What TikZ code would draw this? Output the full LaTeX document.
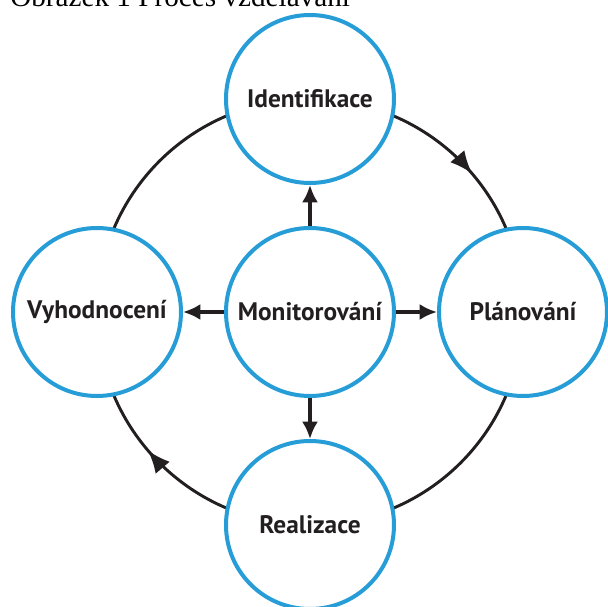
\documentclass[tikz,border=0pt]{standalone}
\usepackage{fontspec}
\setmainfont{Liberation Serif}
\newfontfamily\stagefont{PT Sans}
\usetikzlibrary{arrows.meta,positioning,backgrounds,decorations.markings}
\definecolor{RingBlue}{RGB}{38,157,214}
\definecolor{InkBlack}{RGB}{35,31,32}

\begin{document}
\begin{tikzpicture}[x=0.75pt, y=0.75pt, node distance=159.75pt, on grid,
  stage/.style={circle, draw=RingBlue, line width=3pt, fill=white, minimum size=126pt, inner sep=0pt, text=InkBlack, font=\stagefont\bfseries\fontsize{19pt}{22pt}\selectfont},
  spoke/.style={-{Latex[length=13pt,width=12pt]}, line width=2.3pt, draw=InkBlack},
  loopline/.style={line width=2.2pt, draw=InkBlack},
  tipped/.style={loopline, postaction={decorate}, decoration={markings, mark=at position 0.55 with {\arrow{Latex[length=17pt,width=14pt]}}}}]
\useasboundingbox (-310,-295) rectangle (298,312);

\node[anchor=base west, inner sep=0pt, font=\fontsize{21.9pt}{26pt}\selectfont] (title) at (-300,305) {Obrázek 1 Proces vzdělávání};

\node[stage] (mon) at (0,0) {Monitorování};
\node[stage, above=of mon] (idf) {Identifikace};
\node[stage, right=of mon] (pla) {Plánování};
\node[stage, below=of mon] (rea) {Realizace};
\node[stage, left=of mon] (vyh) {Vyhodnocení};

\draw[spoke] (mon) -- (idf);
\draw[spoke] (mon) -- (pla);
\draw[spoke] (mon) -- (rea);
\draw[spoke] (mon) -- (vyh);

% outer cycle behind the circles
\begin{pgfonlayer}{background}
\draw[tipped] (idf.center) to[bend left=45] (pla.center);
\draw[loopline] (pla.center) to[bend left=45] (rea.center);
\draw[tipped] (rea.center) to[bend left=45] (vyh.center);
\draw[loopline] (vyh.center) to[bend left=45] (idf.center);
\end{pgfonlayer}
\end{tikzpicture}
\end{document}
